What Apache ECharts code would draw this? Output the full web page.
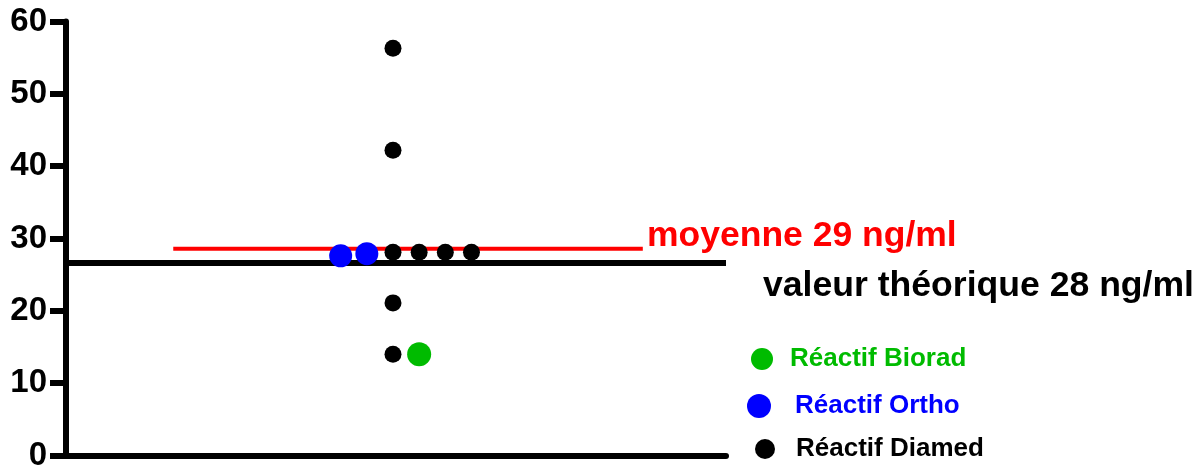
<!DOCTYPE html>
<html><head><meta charset="utf-8">
<script src="https://cdn.jsdelivr.net/npm/echarts@6/dist/echarts.min.js"></script>
<style>html,body{margin:0;padding:0;background:#fff}#c{width:1203px;height:472px}</style>
</head><body><div id="c"></div>
<script>
// Dot-plot data: x = horizontal jitter slot (0 = column centre), y = value in ng/ml
const yTicks = [0, 10, 20, 30, 40, 50, 60];
const diamedX = [0, 0, 0, 1, 2, 3, 0, 0];
const diamedY = [56.3, 42.2, 28.1, 28.1, 28.1, 28.1, 21.1, 14.0];
const orthoX = [-2, -1];
const orthoY = [27.6, 27.9];
const bioradX = [1];
const bioradY = [14.0];
const meanValue = 28.6;
const meanSpanX = [-8.4, 9.55];
const theoreticalValue = 26.6;
const seriesNames = ['Réactif Biorad', 'Réactif Ortho', 'Réactif Diamed'];
const meanLabel = 'moyenne 29 ng/ml';
const theoLabel = 'valeur théorique 28 ng/ml';

const zip = (xs, ys) => xs.map((x, i) => [x, ys[i]]);
const FONT = '"Liberation Sans", Arial, sans-serif';

const chart = echarts.init(document.getElementById('c'), null, {renderer: 'canvas'});
chart.setOption({
  animation: false,
  backgroundColor: '#fff',
  grid: {left: 66, right: 477, top: 21.5, bottom: 12, containLabel: false},
  xAxis: {
    type: 'value', min: -12.5, max: 12.73,
    axisLine: {show: true, onZero: false, lineStyle: {color: '#000', width: 6}},
    axisTick: {show: false}, axisLabel: {show: false}, splitLine: {show: false}
  },
  yAxis: {
    type: 'value', min: yTicks[0], max: yTicks[yTicks.length - 1], interval: 10,
    axisLine: {show: true, onZero: false, lineStyle: {color: '#000', width: 6}},
    axisTick: {show: true, length: 16, lineStyle: {color: '#000', width: 6}},
    axisLabel: {color: '#000', fontWeight: 'bold', fontSize: 33, fontFamily: FONT, margin: 19},
    splitLine: {show: false}
  },
  legend: [
    {data: [seriesNames[0]], left: 746, top: 341, orient: 'vertical', icon: 'circle', itemWidth: 46, itemHeight: 22,
     textStyle: {color: '#00bb00', fontWeight: 'bold', fontSize: 26, fontFamily: FONT}},
    {data: [seriesNames[1]], left: 742, top: 388, orient: 'vertical', icon: 'circle', itemWidth: 62, itemHeight: 24,
     textStyle: {color: '#0000ff', fontWeight: 'bold', fontSize: 26, fontFamily: FONT}},
    {data: [seriesNames[2]], left: 750, top: 431, orient: 'vertical', icon: 'circle', itemWidth: 52, itemHeight: 20,
     textStyle: {color: '#000', fontWeight: 'bold', fontSize: 26, fontFamily: FONT}}
  ],
  series: [
    {
      name: 'theo', type: 'line', data: [], silent: true,
      markLine: {
        silent: true, symbol: 'none', animation: false,
        lineStyle: {color: '#000', width: 6, type: 'solid'},
        label: {show: false},
        data: [{yAxis: theoreticalValue}]
      }, z: 1
    },
    {
      name: 'mean', type: 'line', showSymbol: false, silent: true,
      lineStyle: {color: '#ff0000', width: 4},
      data: meanSpanX.map(x => [x, meanValue]), z: 2
    },
    {name: seriesNames[2], type: 'scatter', symbolSize: 17, itemStyle: {color: '#000', opacity: 1}, data: zip(diamedX, diamedY), z: 5},
    {name: seriesNames[1], type: 'scatter', symbolSize: 23, itemStyle: {color: '#0000ff', opacity: 1}, data: zip(orthoX, orthoY), z: 6},
    {name: seriesNames[0], type: 'scatter', symbolSize: 24, itemStyle: {color: '#00bb00', opacity: 1}, data: zip(bioradX, bioradY), z: 6}
  ],
  graphic: [
    {type: 'text', left: 647, top: 218, style: {text: meanLabel, fill: '#ff0000', font: 'bold 35.5px ' + FONT}},
    {type: 'text', left: 763, top: 268, style: {text: theoLabel, fill: '#000', font: 'bold 35.6px ' + FONT}}
  ]
});
</script></body></html>
